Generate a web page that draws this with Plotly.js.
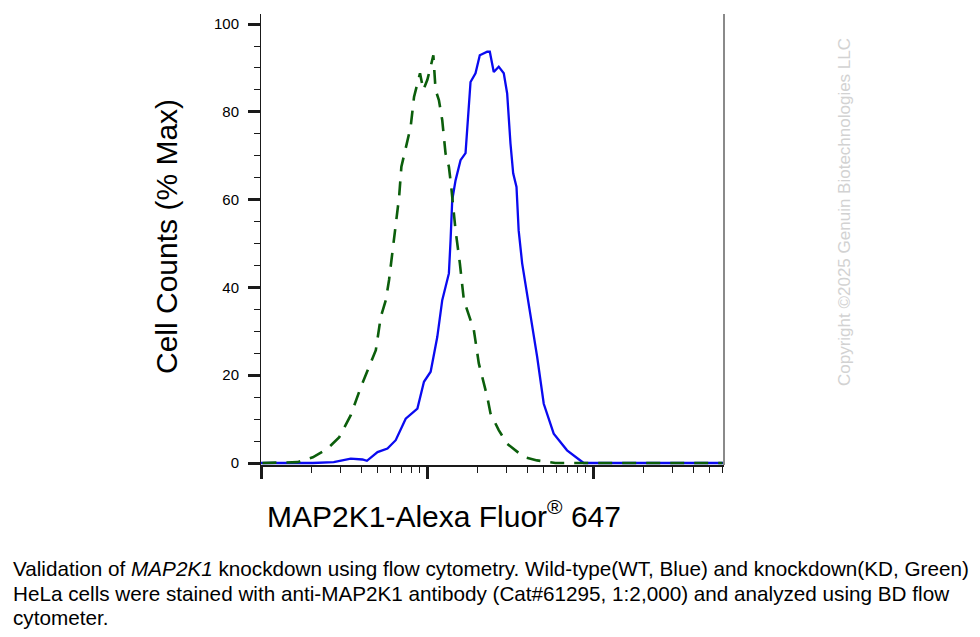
<!DOCTYPE html>
<html>
<head>
<meta charset="utf-8">
<script src="https://cdn.plot.ly/plotly-3.0.1.min.js"></script>
<style>
  html, body { margin: 0; padding: 0; background: #ffffff; }
  #chart { width: 980px; height: 637px; }
</style>
</head>
<body>
<div id="chart"></div>
<script>
// Wild-type (WT) histogram: fluorescence intensity vs % of max cell count
const wtX = [100, 132, 205, 274, 347, 408, 434, 503, 577, 647, 743, 874, 957, 1050, 1151, 1233,
             1352, 1384, 1416, 1483, 1589, 1703, 1825, 1955, 2075, 2300, 2384, 2518, 2698, 2893,
             3032, 3175, 3296, 3451, 3556, 3733, 4188, 4594, 5035, 5780, 6954, 8756, 12650, 61000];
const wtY = [0, 0, 0, 0.2, 1.0, 0.8, 0.5, 2.5, 3.3, 5.2, 10.1, 12.4, 18.5, 20.8, 28.7, 37.1,
             43.2, 50.8, 59.9, 64.4, 69.0, 70.6, 86.8, 88.8, 92.9, 93.7, 93.7, 89.1, 90.3, 88.8,
             84.2, 72.8, 66.0, 62.9, 53.0, 45.5, 34.1, 24.2, 13.5, 6.7, 2.9, 0, 0, 0];

// Knockdown (KD) histogram
const kdX = [102, 166, 205, 252, 296, 347, 399, 437, 491, 526, 564, 590, 632, 678, 700, 796,
             834, 906, 949, 1003, 1050, 1090, 1124, 1177, 1233, 1291, 1352, 1397, 1483, 1574,
             1664, 1911, 2047, 2147, 2300, 2407, 2698, 3031, 3812, 4590, 5915, 7625, 60000];
const kdY = [0, 0.2, 1.3, 3.3, 5.9, 10.9, 17.3, 21.1, 25.7, 33.3, 37.1, 41.7, 50.8, 60.6, 67.5, 76.6,
             83.4, 88.8, 85.0, 87.3, 90.3, 92.9, 85.0, 82.7, 78.1, 70.5, 67.5, 62.9, 53.0, 45.5,
             37.1, 30.3, 22.7, 19.6, 15.1, 11.3, 7.5, 4.4, 1.4, 0.6, 0, 0, 0];

// Axis ticks
const yTicks = [0, 20, 40, 60, 80, 100];
const yMinorTicks = [5, 10, 15, 25, 30, 35, 45, 50, 55, 65, 70, 75, 85, 90, 95];
const xDecades = [100, 1000, 10000];

// Text
const xTitle = 'MAP2K1-Alexa Fluor<sup>®</sup> 647';
const yTitle = 'Cell Counts (% Max)';
const captionLines = [
  'Validation of <i>MAP2K1</i> knockdown using flow cytometry. Wild-type(WT, Blue) and knockdown(KD, Green)',
  'HeLa cells were stained with anti-MAP2K1 antibody (Cat#61295, 1:2,000) and analyzed using BD flow',
  'cytometer.'
];
const watermark = 'Copyright ©2025 Genuin Biotechnologies LLC';

// minor ticks on the log axis at 2..9 of every decade
const xMinorTicks = [];
xDecades.forEach(d => { for (let k = 2; k <= 9; k++) xMinorTicks.push(d * k); });

const W = 980, H = 637;
const M = { l: 261, r: 256, t: 14, b: 172 };
const plotW = W - M.l - M.r, plotH = H - M.t - M.b;
const px = x => (x - M.l) / plotW;          // page x -> paper x
const py = y => (H - M.b - y) / plotH;      // page y -> paper y

const FONT = 'Liberation Sans, Arial, sans-serif';

const traces = [
  {
    x: wtX, y: wtY, type: 'scatter', mode: 'lines', name: 'WT',
    line: { color: '#0a0af0', width: 2.3, shape: 'linear' },
    hoverinfo: 'skip'
  },
  {
    x: kdX, y: kdY, type: 'scatter', mode: 'lines', name: 'KD',
    line: { color: '#0b5e0b', width: 2.6, dash: '14px,10px' },
    hoverinfo: 'skip'
  }
];

// caption, one annotation per line so the line spacing can be set
const captionY = [568, 593, 617];
const captionAnns = captionLines.map((t, i) => ({
  text: t, xref: 'paper', yref: 'paper', x: px(11), y: py(captionY[i]),
  xanchor: 'left', yanchor: 'middle', align: 'left', showarrow: false,
  font: { family: FONT, size: 20.7, color: '#000000' }
}));

const layout = {
  width: W, height: H,
  margin: M,
  paper_bgcolor: '#ffffff',
  plot_bgcolor: '#ffffff',
  showlegend: false,
  font: { family: FONT, color: '#000000' },
  xaxis: {
    type: 'log',
    range: [2, 4.787],
    showgrid: false, zeroline: false,
    showline: true, linecolor: '#1a1a1a', linewidth: 2,
    ticks: 'outside', ticklen: 12, tickwidth: 3, tickcolor: '#1a1a1a',
    tickmode: 'array', tickvals: xDecades,
    showticklabels: false,
    minor: { ticks: 'outside', tickmode: 'array', tickvals: xMinorTicks, ticklen: 6, tickwidth: 1, tickcolor: '#1a1a1a', showgrid: false }
  },
  yaxis: {
    range: [-0.45, 102.3],
    showgrid: false, zeroline: false,
    showline: true, linecolor: '#1a1a1a', linewidth: 1,
    ticks: 'outside', ticklen: 12, tickwidth: 3, tickcolor: '#1a1a1a',
    tickmode: 'array', tickvals: yTicks,
    tickfont: { family: FONT, size: 15, color: '#000000' },
    ticklabelstandoff: 6,
    minor: { ticks: 'outside', tickmode: 'array', tickvals: yMinorTicks, ticklen: 6, tickwidth: 1, tickcolor: '#1a1a1a', showgrid: false }
  },
  shapes: [
    { type: 'line', xref: 'paper', yref: 'paper', x0: 1, x1: 1, y0: 0, y1: 1,
      line: { color: '#8a8a8a', width: 2 } }
  ],
  annotations: [
    { text: yTitle, xref: 'paper', yref: 'paper', x: px(166), y: py(237),
      xanchor: 'center', yanchor: 'middle', textangle: -90, showarrow: false,
      font: { family: FONT, size: 30, color: '#000000' } },
    { text: xTitle, xref: 'paper', yref: 'paper', x: px(444), y: py(514),
      xanchor: 'center', yanchor: 'middle', showarrow: false,
      font: { family: FONT, size: 30, color: '#000000' } },
    { text: watermark, xref: 'paper', yref: 'paper', x: px(845), y: py(212),
      xanchor: 'center', yanchor: 'middle', textangle: -90, showarrow: false,
      font: { family: FONT, size: 17, color: '#d2d2d2' } }
  ].concat(captionAnns)
};

Plotly.newPlot('chart', traces, layout, { staticPlot: true, displayModeBar: false });
</script>
</body>
</html>
